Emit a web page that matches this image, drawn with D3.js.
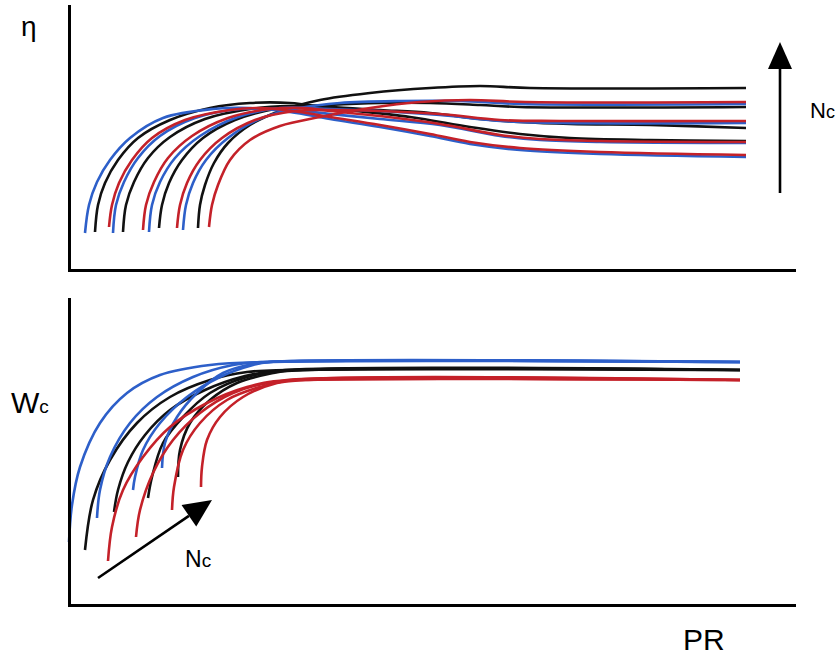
<!DOCTYPE html>
<html>
<head>
<meta charset="utf-8">
<script src="https://cdn.jsdelivr.net/npm/d3@7"></script>
<style>
body { margin: 0; background: #fff; }
svg { display: block; font-family: "Liberation Sans", Arial, sans-serif; }
</style>
</head>
<body>
<svg id="chart" width="838" height="658"></svg>
<script>
// families: A = blue, B = black, C = red
var etaFamily = ["A","B","C","A","B","C","A","B","C","A","B","C"];
var etaCurves = [
  [[0.16,0.37],[0.20,0.65],[0.28,0.88],[0.41,1.10],[0.61,1.32],[0.94,1.52],[1.44,1.61],[1.81,1.62],[2.21,1.58],[2.61,1.51],[3.11,1.43],[3.61,1.34],[4.01,1.26],[4.51,1.20],[5.31,1.16],[6.77,1.13]],
  [[0.26,0.38],[0.29,0.65],[0.36,0.87],[0.49,1.10],[0.69,1.32],[1.01,1.50],[1.41,1.62],[1.81,1.67],[2.21,1.67],[2.61,1.62],[3.41,1.53],[4.01,1.43],[4.51,1.36],[5.01,1.32],[5.81,1.30],[6.77,1.29]],
  [[0.40,0.43],[0.43,0.65],[0.50,0.87],[0.63,1.10],[0.83,1.32],[1.16,1.50],[1.61,1.60],[1.91,1.62],[2.31,1.58],[2.61,1.53],[3.11,1.45],[3.61,1.36],[4.01,1.28],[4.51,1.22],[5.31,1.18],[6.77,1.15]],
  [[0.44,0.37],[0.47,0.65],[0.55,0.88],[0.69,1.12],[0.91,1.34],[1.26,1.52],[1.71,1.61],[2.11,1.61],[2.61,1.56],[3.11,1.51],[3.71,1.45],[4.31,1.34],[4.71,1.30],[5.31,1.28],[6.77,1.27]],
  [[0.54,0.38],[0.57,0.65],[0.65,0.88],[0.79,1.12],[1.01,1.33],[1.36,1.51],[1.81,1.61],[2.21,1.64],[2.61,1.63],[3.11,1.60],[3.61,1.57],[4.11,1.51],[4.51,1.48],[5.01,1.46],[5.81,1.45],[6.77,1.42]],
  [[0.74,0.40],[0.77,0.65],[0.85,0.88],[0.99,1.12],[1.23,1.34],[1.59,1.52],[2.01,1.61],[2.36,1.62],[2.61,1.59],[3.11,1.54],[3.71,1.46],[4.31,1.35],[4.71,1.31],[5.31,1.29],[6.77,1.28]],
  [[0.80,0.38],[0.83,0.65],[0.91,0.88],[1.06,1.12],[1.31,1.34],[1.69,1.53],[2.11,1.62],[2.61,1.61],[3.11,1.59],[3.71,1.55],[4.31,1.49],[4.91,1.47],[6.77,1.47]],
  [[0.90,0.42],[0.93,0.65],[1.00,0.87],[1.13,1.10],[1.34,1.32],[1.66,1.50],[2.06,1.61],[2.61,1.65],[3.11,1.67],[3.61,1.67],[4.11,1.65],[4.51,1.63],[6.77,1.63]],
  [[1.08,0.42],[1.11,0.65],[1.18,0.87],[1.31,1.10],[1.53,1.32],[1.86,1.50],[2.26,1.59],[2.61,1.60],[3.11,1.59],[3.71,1.56],[4.31,1.50],[4.91,1.49],[6.77,1.49]],
  [[1.14,0.40],[1.17,0.65],[1.24,0.87],[1.37,1.10],[1.59,1.32],[1.93,1.52],[2.31,1.62],[2.71,1.67],[3.31,1.69],[3.91,1.69],[4.51,1.66],[6.77,1.66]],
  [[1.29,0.42],[1.31,0.65],[1.36,0.85],[1.45,1.07],[1.59,1.27],[1.81,1.45],[2.11,1.59],[2.51,1.70],[3.01,1.77],[3.61,1.82],[4.11,1.84],[4.61,1.82],[6.77,1.82]],
  [[1.40,0.43],[1.43,0.65],[1.49,0.85],[1.61,1.10],[1.81,1.30],[2.11,1.44],[2.51,1.53],[3.01,1.62],[3.51,1.68],[4.01,1.70],[4.56,1.68],[6.77,1.68]]
];

var wcFamily = ["A","B","A","C","B","A","C","B","A","C","B","C"];
var wcCurves = [
  [[0.00,0.63],[0.03,1.00],[0.11,1.38],[0.31,1.82],[0.58,2.12],[0.91,2.30],[1.41,2.40],[1.98,2.43],[6.71,2.43]],
  [[0.16,0.55],[0.24,1.05],[0.41,1.45],[0.68,1.82],[1.01,2.08],[1.41,2.25],[1.78,2.33],[2.18,2.35],[6.71,2.35]],
  [[0.28,0.87],[0.31,1.15],[0.41,1.48],[0.61,1.82],[0.88,2.08],[1.24,2.28],[1.64,2.40],[1.94,2.43],[6.71,2.43]],
  [[0.39,0.44],[0.43,0.78],[0.54,1.15],[0.74,1.48],[1.01,1.78],[1.38,2.02],[1.78,2.18],[2.18,2.25],[6.71,2.25]],
  [[0.45,0.93],[0.49,1.15],[0.59,1.43],[0.76,1.70],[1.01,1.95],[1.36,2.15],[1.76,2.29],[2.16,2.35],[6.71,2.35]],
  [[0.64,1.15],[0.66,1.28],[0.74,1.55],[0.91,1.82],[1.18,2.08],[1.51,2.28],[1.84,2.40],[2.01,2.43],[6.71,2.43]],
  [[0.67,0.68],[0.71,0.95],[0.84,1.32],[1.04,1.65],[1.31,1.92],[1.64,2.12],[2.04,2.23],[2.31,2.25],[6.71,2.25]],
  [[0.79,1.07],[0.83,1.28],[0.94,1.62],[1.14,1.88],[1.41,2.12],[1.78,2.28],[2.18,2.34],[6.71,2.35]],
  [[0.93,1.37],[0.96,1.62],[1.08,1.88],[1.28,2.12],[1.54,2.32],[1.84,2.41],[2.01,2.43],[6.71,2.43]],
  [[1.03,0.95],[1.05,1.18],[1.14,1.55],[1.31,1.82],[1.58,2.05],[1.91,2.18],[2.24,2.25],[6.71,2.25]],
  [[1.09,1.28],[1.11,1.55],[1.21,1.82],[1.41,2.05],[1.68,2.22],[2.04,2.32],[2.26,2.35],[6.71,2.35]],
  [[1.32,1.18],[1.33,1.38],[1.38,1.65],[1.51,1.88],[1.74,2.08],[2.08,2.22],[2.36,2.25],[6.71,2.25]]
];

var svg = d3.select("#chart");

var x = d3.scaleLinear().domain([0, 7.25]).range([69, 794]);
var yTop = d3.scaleLinear().domain([0, 2.64]).range([270, 6]);
var yBot = d3.scaleLinear().domain([0, 3.06]).range([605, 299]);

var color = d3.scaleOrdinal().domain(["A","B","C"]).range(["#2d5fc9", "#111111", "#c42129"]);
// black under blue under red
var drawOrder = {B: 0, A: 1, C: 2};

function drawCurves(curves, family, y) {
  var line = d3.line()
    .x(function(d) { return x(d[0]); })
    .y(function(d) { return y(d[1]); })
    .curve(d3.curveCatmullRom.alpha(0.5));
  var items = curves.map(function(c, i) { return {pts: c, fam: family[i]}; });
  items.sort(function(a, b) { return drawOrder[a.fam] - drawOrder[b.fam]; });
  svg.append("g").selectAll("path")
    .data(items)
    .enter()
    .append("path")
    .attr("d", function(d) { return line(d.pts); })
    .attr("fill", "none")
    .attr("stroke", function(d) { return color(d.fam); })
    .attr("stroke-width", 2.6)
    .attr("stroke-linecap", "butt");
}

drawCurves(etaCurves, etaFamily, yTop);
drawCurves(wcCurves, wcFamily, yBot);

// axes
function styleAxis(g) {
  g.select(".domain").attr("stroke", "#000").attr("stroke-width", 3).attr("stroke-linecap", "square");
}
svg.append("g").attr("transform", "translate(" + x(0) + ",0)")
  .call(d3.axisLeft(yTop).tickValues([]).tickSizeOuter(0)).call(styleAxis);
svg.append("g").attr("transform", "translate(0," + yTop(0) + ")")
  .call(d3.axisBottom(x).tickValues([]).tickSizeOuter(0)).call(styleAxis);
svg.append("g").attr("transform", "translate(" + x(0) + ",0)")
  .call(d3.axisLeft(yBot).tickValues([]).tickSizeOuter(0)).call(styleAxis);
svg.append("g").attr("transform", "translate(0," + yBot(0) + ")")
  .call(d3.axisBottom(x).tickValues([]).tickSizeOuter(0)).call(styleAxis);

// Nc arrows
function arrow(x1, y1, x2, y2, headLen, headW) {
  var ang = Math.atan2(y2 - y1, x2 - x1);
  var bx = x2 - headLen * Math.cos(ang), by = y2 - headLen * Math.sin(ang);
  var px = -Math.sin(ang) * headW / 2, py = Math.cos(ang) * headW / 2;
  svg.append("line")
    .attr("x1", x1).attr("y1", y1).attr("x2", bx).attr("y2", by)
    .attr("stroke", "#000").attr("stroke-width", 2.6);
  svg.append("path")
    .attr("d", "M" + x2 + "," + y2 + "L" + (bx + px) + "," + (by + py) + "L" + (bx - px) + "," + (by - py) + "Z")
    .attr("fill", "#000");
}
arrow(x(7.11), yTop(0.77), x(7.11), yTop(2.28), 27, 24);
arrow(x(0.29), yBot(0.27), x(1.43), yBot(1.05), 28, 26);

// labels
svg.append("text").attr("x", 21).attr("y", 36).attr("font-size", 28).text("η");

var wc = svg.append("text").attr("x", 11).attr("y", 413);
wc.append("tspan").attr("font-size", 30).text("W");
wc.append("tspan").attr("font-size", 19).text("c");

var nTop = svg.append("text").attr("x", 810).attr("y", 118);
nTop.append("tspan").attr("font-size", 22).text("N");
nTop.append("tspan").attr("font-size", 18).text("c");

var nBot = svg.append("text").attr("x", 185).attr("y", 567);
nBot.append("tspan").attr("font-size", 23).text("N");
nBot.append("tspan").attr("font-size", 19).text("c");

svg.append("text").attr("x", 683).attr("y", 650).attr("font-size", 30).text("PR");
</script>
</body>
</html>
